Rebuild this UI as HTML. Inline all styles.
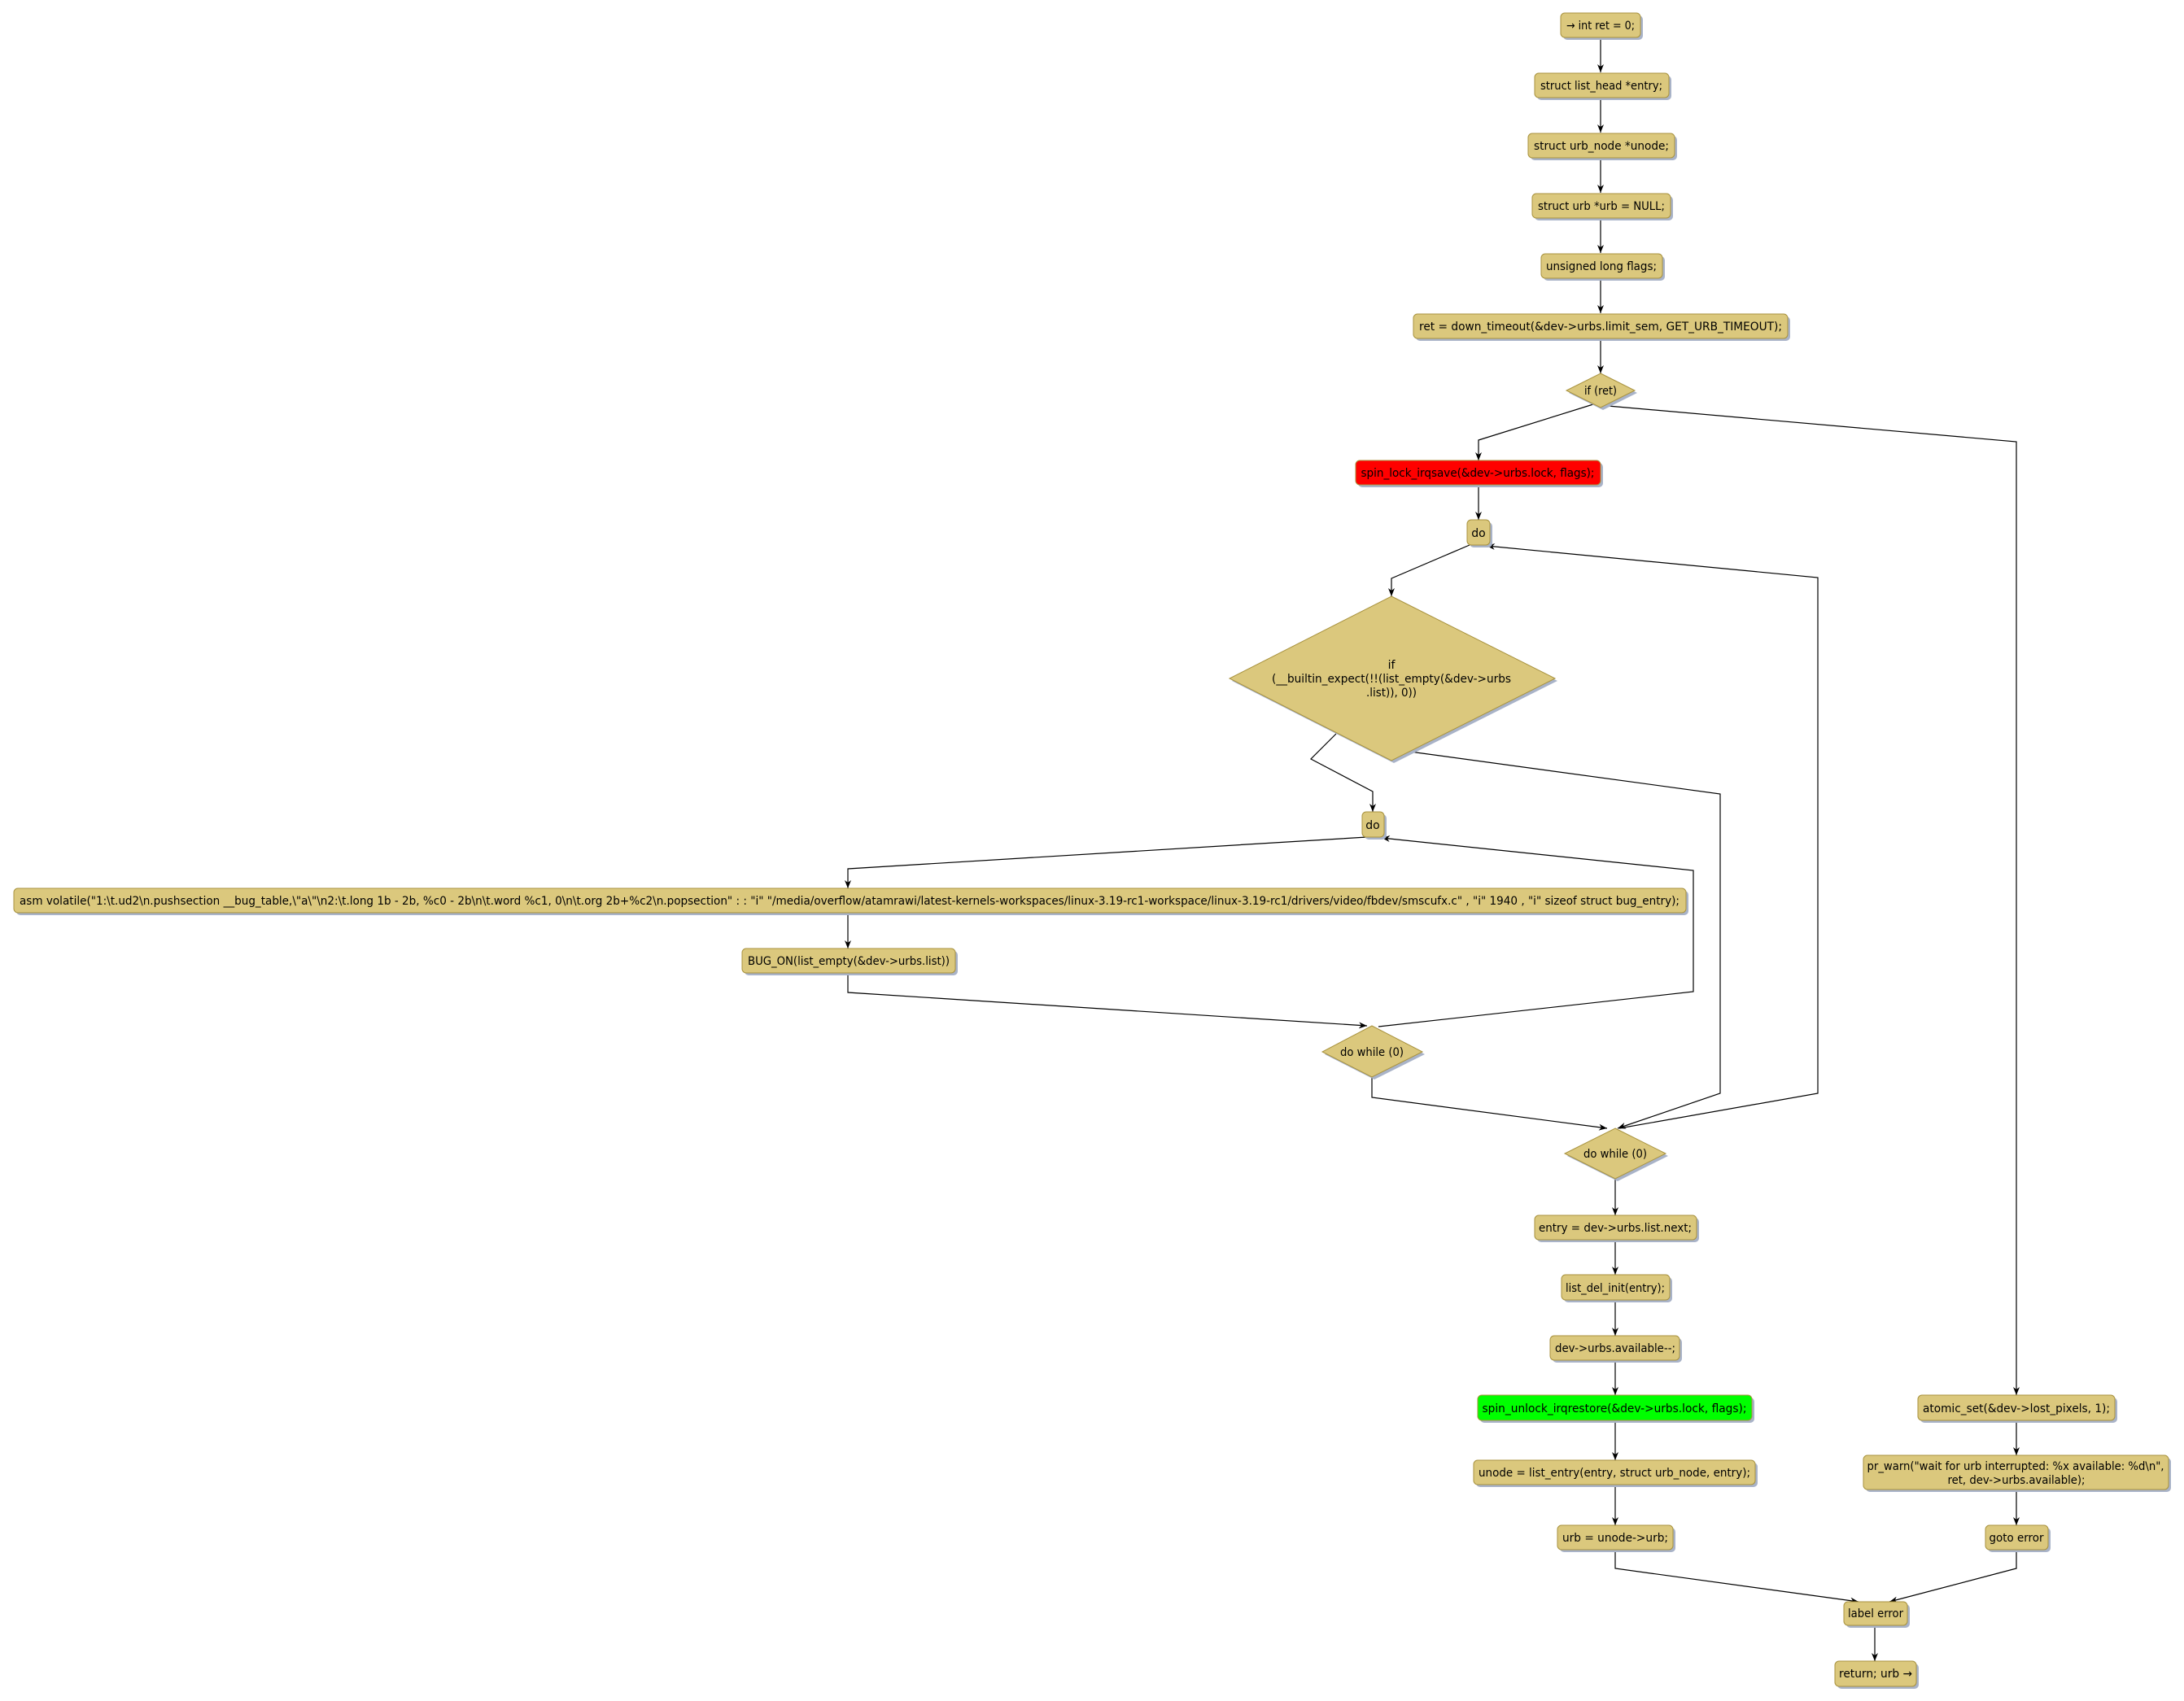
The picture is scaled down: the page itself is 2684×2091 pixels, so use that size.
<!DOCTYPE html>
<html><head><meta charset="utf-8"><style>html,body{margin:0;padding:0;background:#fff}svg{display:block}</style></head><body>
<svg width="2684" height="2091" viewBox="0 0 2684 2091" xmlns="http://www.w3.org/2000/svg" font-family="'DejaVu Sans','Liberation Sans',sans-serif" font-size="14">
<defs>
<marker id="a" markerUnits="userSpaceOnUse" markerWidth="10" markerHeight="10" refX="10" refY="5" orient="auto"><path d="M0,1 L10,5 L0,9 L3,5 z" fill="#000"/></marker>
</defs>
<g fill="none" stroke="#000" stroke-width="1.2" marker-end="url(#a)">
<polyline points="1967,46 1967,89"/>
<polyline points="1967,120 1967,163"/>
<polyline points="1967,194 1967,237"/>
<polyline points="1967,268 1967,311"/>
<polyline points="1967,342 1967,385"/>
<polyline points="1967,415 1967,459"/>
<polyline points="1958,497 1817,541 1817,566"/>
<polyline points="1976,499 2478,543 2478,1715"/>
<polyline points="1817,596 1817,639"/>
<polyline points="1806,670 1710,711 1710,733"/>
<polyline points="1642,902 1611,933 1687,973 1687,998"/>
<polyline points="1733,924 2114,976 2114,1344 1988,1387"/>
<polyline points="1990,1387 2234,1344 2234,710 1827,671"/>
<polyline points="1680,1029 1042,1068 1042,1092"/>
<polyline points="1042,1122 1042,1166"/>
<polyline points="1042,1196 1042,1220 1680,1261"/>
<polyline points="1694,1262 2081,1219 2081,1070 1698,1030"/>
<polyline points="1686,1324 1686,1349 1975,1387"/>
<polyline points="1985,1449 1985,1494"/>
<polyline points="1985,1524 1985,1567"/>
<polyline points="1985,1598 1985,1642"/>
<polyline points="1985,1672 1985,1715"/>
<polyline points="1985,1746 1985,1795"/>
<polyline points="1985,1825 1985,1875"/>
<polyline points="1985,1905 1985,1928 2284,1969"/>
<polyline points="2478,1746 2478,1789"/>
<polyline points="2478,1831 2478,1875"/>
<polyline points="2478,1905 2478,1928 2322,1969"/>
<polyline points="2304,1998 2304,2042"/>
</g>
<g fill="#a9b3c8">
<rect x="1921" y="19" width="98" height="30" rx="5"/>
<rect x="1889" y="93" width="165" height="30" rx="5"/>
<rect x="1881" y="167" width="180" height="30" rx="5"/>
<rect x="1886" y="241" width="170" height="30" rx="5"/>
<rect x="1897" y="315" width="149" height="30" rx="5"/>
<rect x="1740" y="389" width="460" height="30" rx="5"/>
<polygon points="1970,462 2012,483 1970,504 1928,483"/>
<rect x="1669" y="569" width="301" height="30" rx="5"/>
<rect x="1806" y="642" width="28" height="31" rx="5"/>
<polygon points="1713,736 1914,837 1713,938 1514,837"/>
<rect x="1677" y="1001" width="27" height="31" rx="5"/>
<rect x="20" y="1095" width="2055" height="30" rx="5"/>
<rect x="915" y="1169" width="262" height="30" rx="5"/>
<polygon points="1689,1264 1751,1296 1689,1327 1628,1296"/>
<polygon points="1988,1390 2050,1421 1988,1452 1926,1421"/>
<rect x="1889" y="1497" width="199" height="30" rx="5"/>
<rect x="1922" y="1570" width="133" height="31" rx="5"/>
<rect x="1908" y="1645" width="159" height="30" rx="5"/>
<rect x="1819" y="1718" width="337" height="31" rx="5"/>
<rect x="1814" y="1798" width="346" height="30" rx="5"/>
<rect x="1917" y="1878" width="142" height="30" rx="5"/>
<rect x="2360" y="1718" width="242" height="31" rx="5"/>
<rect x="2293" y="1792" width="375" height="42" rx="5"/>
<rect x="2443" y="1878" width="77" height="30" rx="5"/>
<rect x="2269" y="1972" width="78" height="29" rx="5"/>
<rect x="2258" y="2045" width="100" height="31" rx="5"/>
</g>
<g fill="#dbc87d" stroke="#a8923e" stroke-width="1">
<rect x="1918" y="16" width="98" height="30" rx="5"/>
<rect x="1886" y="90" width="165" height="30" rx="5"/>
<rect x="1878" y="164" width="180" height="30" rx="5"/>
<rect x="1883" y="238" width="170" height="30" rx="5"/>
<rect x="1894" y="312" width="149" height="30" rx="5"/>
<rect x="1737" y="386" width="460" height="30" rx="5"/>
<polygon points="1967,459 2009,480 1967,501 1925,480"/>
<rect x="1666" y="566" width="301" height="30" rx="5" fill="#ff0000"/>
<rect x="1803" y="639" width="28" height="31" rx="5"/>
<polygon points="1710,733 1911,834 1710,935 1511,834"/>
<rect x="1674" y="998" width="27" height="31" rx="5"/>
<rect x="17" y="1092" width="2055" height="30" rx="5"/>
<rect x="912" y="1166" width="262" height="30" rx="5"/>
<polygon points="1686,1261 1748,1293 1686,1324 1625,1293"/>
<polygon points="1985,1387 2047,1418 1985,1449 1923,1418"/>
<rect x="1886" y="1494" width="199" height="30" rx="5"/>
<rect x="1919" y="1567" width="133" height="31" rx="5"/>
<rect x="1905" y="1642" width="159" height="30" rx="5"/>
<rect x="1816" y="1715" width="337" height="31" rx="5" fill="#00ff00"/>
<rect x="1811" y="1795" width="346" height="30" rx="5"/>
<rect x="1914" y="1875" width="142" height="30" rx="5"/>
<rect x="2357" y="1715" width="242" height="31" rx="5"/>
<rect x="2290" y="1789" width="375" height="42" rx="5"/>
<rect x="2440" y="1875" width="77" height="30" rx="5"/>
<rect x="2266" y="1969" width="78" height="29" rx="5"/>
<rect x="2255" y="2042" width="100" height="31" rx="5"/>
</g>
<g fill="#000" text-anchor="middle" xml:space="preserve">
<text x="1967" y="36" textLength="84" lengthAdjust="spacingAndGlyphs">→ int ret = 0;</text>
<text x="1968" y="110" textLength="150" lengthAdjust="spacingAndGlyphs">struct list_head *entry;</text>
<text x="1968" y="184" textLength="166" lengthAdjust="spacingAndGlyphs">struct urb_node *unode;</text>
<text x="1968" y="258" textLength="156" lengthAdjust="spacingAndGlyphs">struct urb *urb = NULL;</text>
<text x="1968" y="332" textLength="136" lengthAdjust="spacingAndGlyphs">unsigned long flags;</text>
<text x="1967" y="406" textLength="446" lengthAdjust="spacingAndGlyphs">ret = down_timeout(&amp;dev-&gt;urbs.limit_sem, GET_URB_TIMEOUT);</text>
<text x="1967" y="485" textLength="40" lengthAdjust="spacingAndGlyphs">if (ret)</text>
<text x="1816" y="586" textLength="287" lengthAdjust="spacingAndGlyphs">spin_lock_irqsave(&amp;dev-&gt;urbs.lock, flags);</text>
<text x="1817" y="660">do</text>
<text x="1710" y="822">if</text>
<text x="1710" y="839" textLength="294" lengthAdjust="spacingAndGlyphs">(__builtin_expect(!!(list_empty(&amp;dev-&gt;urbs</text>
<text x="1710" y="856" textLength="62" lengthAdjust="spacingAndGlyphs">.list)), 0))</text>
<text x="1687" y="1019">do</text>
<text x="1044" y="1112" textLength="2040" lengthAdjust="spacingAndGlyphs">asm volatile("1:\t.ud2\n.pushsection __bug_table,\"a\"\n2:\t.long 1b - 2b, %c0 - 2b\n\t.word %c1, 0\n\t.org 2b+%c2\n.popsection" : : "i" "/media/overflow/atamrawi/latest-kernels-workspaces/linux-3.19-rc1-workspace/linux-3.19-rc1/drivers/video/fbdev/smscufx.c" , "i" 1940 , "i" sizeof struct bug_entry);</text>
<text x="1043" y="1186" textLength="248" lengthAdjust="spacingAndGlyphs">BUG_ON(list_empty(&amp;dev-&gt;urbs.list))</text>
<text x="1686" y="1298" textLength="78" lengthAdjust="spacingAndGlyphs">do while (0)</text>
<text x="1985" y="1423" textLength="78" lengthAdjust="spacingAndGlyphs">do while (0)</text>
<text x="1985" y="1514" textLength="188" lengthAdjust="spacingAndGlyphs">entry = dev-&gt;urbs.list.next;</text>
<text x="1985" y="1588" textLength="122" lengthAdjust="spacingAndGlyphs">list_del_init(entry);</text>
<text x="1985" y="1662" textLength="148" lengthAdjust="spacingAndGlyphs">dev-&gt;urbs.available--;</text>
<text x="1984" y="1736" textLength="325" lengthAdjust="spacingAndGlyphs">spin_unlock_irqrestore(&amp;dev-&gt;urbs.lock, flags);</text>
<text x="1984" y="1815" textLength="334" lengthAdjust="spacingAndGlyphs">unode = list_entry(entry, struct urb_node, entry);</text>
<text x="1985" y="1895" textLength="130" lengthAdjust="spacingAndGlyphs">urb = unode-&gt;urb;</text>
<text x="2478" y="1736" textLength="230" lengthAdjust="spacingAndGlyphs">atomic_set(&amp;dev-&gt;lost_pixels, 1);</text>
<text x="2477" y="1807" textLength="365" lengthAdjust="spacingAndGlyphs">pr_warn("wait for urb interrupted: %x available: %d\n",</text>
<text x="2478" y="1824" textLength="169" lengthAdjust="spacingAndGlyphs">ret, dev-&gt;urbs.available);</text>
<text x="2478" y="1895" textLength="67" lengthAdjust="spacingAndGlyphs">goto error</text>
<text x="2305" y="1988" textLength="68" lengthAdjust="spacingAndGlyphs">label error</text>
<text x="2305" y="2062" textLength="90" lengthAdjust="spacingAndGlyphs">return; urb →</text>
</g>
</svg>
</body></html>
